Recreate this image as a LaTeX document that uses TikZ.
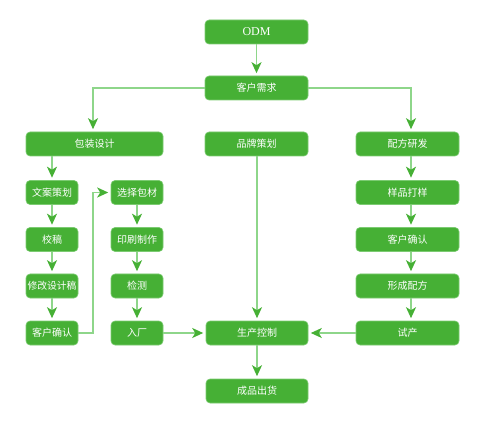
\documentclass[tikz,border=0pt]{standalone}
\usepackage{fontspec}
\setmainfont{Liberation Serif}
\newfontfamily\cjk{Noto Sans CJK SC}
\usetikzlibrary{arrows.meta,calc}
\definecolor{boxg}{HTML}{46B035}
\definecolor{boxb}{HTML}{7CCB72}
\definecolor{lineg}{HTML}{8ED68A}
\begin{document}
\begin{tikzpicture}[x=1pt,y=-1pt,
  box/.style={rectangle,rounded corners=4pt,fill=boxg,draw=boxb,line width=0.6pt,
    text=white,font=\cjk\fontsize{10}{11}\selectfont,inner sep=0pt,
    minimum height=24pt,minimum width=103pt},
  small/.style={box,minimum width=52pt},
  conn/.style={draw=lineg,line width=1.8pt,shorten >=2.5pt,
    -{Stealth[length=11pt,width=10pt,inset=3pt,color=boxg]}}]
\useasboundingbox (0,0) rectangle (495,430);
\node[box,font=\fontsize{12}{13}\selectfont] (odm) at (256.5,32) {ODM};
\node[box] (xq) at (256.5,88) {客户需求};
\node[box,minimum width=137pt] (bz) at (94.5,144) {包装设计};
\node[box] (pp) at (256.5,144) {品牌策划};
\node[box] (pf) at (407.5,144) {配方研发};
\node[small] (wa) at (52,192.5) {文案策划};
\node[small] (jg) at (52,239.5) {校稿};
\node[small,font=\cjk\fontsize{9.8}{10}\selectfont] (xg) at (52,286) {修改设计稿};
\node[small] (qr1) at (52,333) {客户确认};
\node[small] (xz) at (137,192.5) {选择包材};
\node[small] (ys) at (137,239.5) {印刷制作};
\node[small] (jc) at (137,286) {检测};
\node[small] (rc) at (137,333) {入厂};
\node[box] (yp) at (407.5,192.5) {样品打样};
\node[box] (qr2) at (407.5,239.5) {客户确认};
\node[box] (xc) at (407.5,286) {形成配方};
\node[box] (sc) at (407.5,333) {试产};
\node[box,minimum width=102pt] (kz) at (257,333) {生产控制};
\node[box,minimum width=102pt] (ch) at (257,391) {成品出货};
\coordinate (lx) at (93,0);
\coordinate (rx) at (411,0);
\coordinate (mx) at (257,0);
\coordinate (cx) at (52,0);
\coordinate (jx) at (93,0);
\path[conn] (odm) -- (xq);
\path[conn] (xq.west) -| (lx |- bz.north);
\path[conn] (xq.east) -| (rx |- pf.north);
\path[conn] (mx |- pp.south) -- (mx |- kz.north);
\path[conn] (cx |- bz.south) -- (wa);
\path[conn] (wa) -- (jg);
\path[conn] (jg) -- (xg);
\path[conn] (xg) -- (qr1);
\path[conn] (qr1.east) -| (jx |- xz.west) -- (xz.west);
\path[conn] (xz) -- (ys);
\path[conn] (ys) -- (jc);
\path[conn] (jc) -- (rc);
\path[conn] (rc) -- (kz);
\path[conn] (rx |- pf.south) -- (rx |- yp.north);
\path[conn] (rx |- yp.south) -- (rx |- qr2.north);
\path[conn] (rx |- qr2.south) -- (rx |- xc.north);
\path[conn] (rx |- xc.south) -- (rx |- sc.north);
\path[conn] (sc) -- (kz);
\path[conn] (mx |- kz.south) -- (mx |- ch.north);
\end{tikzpicture}
\end{document}
